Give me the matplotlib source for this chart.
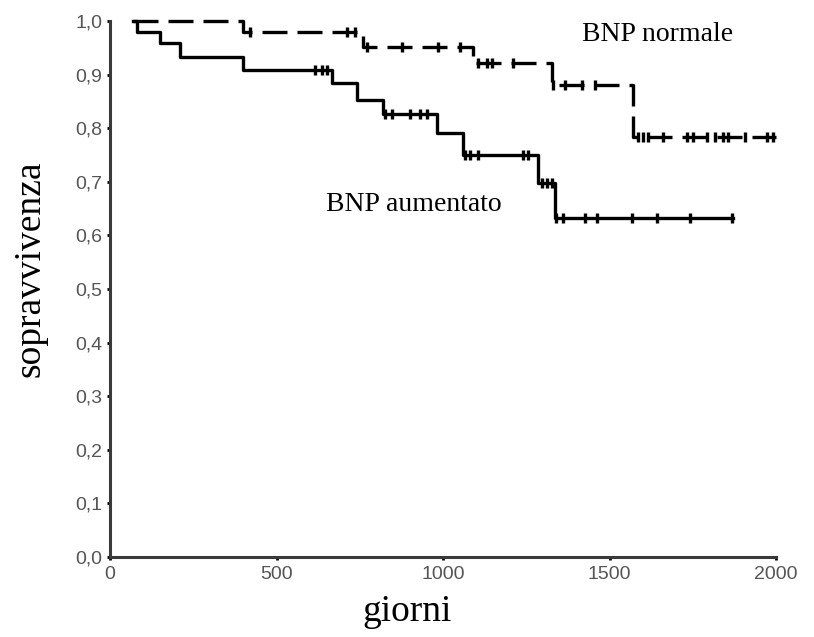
import matplotlib
matplotlib.use("Agg")
import matplotlib.pyplot as plt
import numpy as np

# ---- data ----
normal_step_days = [70, 400, 760, 1090, 1327, 1572]
normal_surv = [1.0, 0.979, 0.951, 0.922, 0.881, 0.784]
normal_end = 2000
normal_censor_days = [420, 712, 736, 771, 877, 985, 1051, 1105, 1132, 1147, 1210,
                      1330, 1366, 1417, 1456, 1586, 1601, 1616, 1661, 1733, 1751,
                      1793, 1817, 1841, 1856, 1907, 1973, 1991]

high_step_days = [70, 80, 150, 210, 400, 667, 742, 820, 982, 1060, 1285, 1336]
high_surv = [1.0, 0.979, 0.959, 0.933, 0.909, 0.884, 0.853, 0.826, 0.791, 0.75, 0.698, 0.632]
high_end = 1871
high_censor_days = [616, 637, 652, 826, 846, 901, 931, 951, 1066, 1081, 1105, 1240,
                    1255, 1297, 1312, 1327, 1339, 1360, 1426, 1462, 1568, 1643, 1742, 1868]

x_ticks = [0, 500, 1000, 1500, 2000]
y_ticks = [0.0, 0.1, 0.2, 0.3, 0.4, 0.5, 0.6, 0.7, 0.8, 0.9, 1.0]
y_tick_labels = ["0,0", "0,1", "0,2", "0,3", "0,4", "0,5", "0,6", "0,7", "0,8", "0,9", "1,0"]


def level_at(t, steps, surv):
    idx = np.searchsorted(steps, t, side="right") - 1
    return surv[max(idx, 0)]


fig = plt.figure(figsize=(8.14, 6.37), dpi=100)
ax = fig.add_axes([110 / 814, 1 - 557 / 637, (776 - 110) / 814, (557 - 21) / 637])

lw = 2.4
# BNP normale (dashed)
xs = list(normal_step_days) + [normal_end]
ys = list(normal_surv) + [normal_surv[-1]]
ax.step(xs, ys, where="post", color="black", lw=lw, dashes=(7.5, 3), clip_on=False)
cy = [level_at(t, normal_step_days, normal_surv) for t in normal_censor_days]
ax.plot(normal_censor_days, cy, ls="none", marker="|", ms=7, mew=2.4, color="black", clip_on=False)

# BNP aumentato (solid)
xs = list(high_step_days) + [high_end]
ys = list(high_surv) + [high_surv[-1]]
ax.step(xs, ys, where="post", color="black", lw=lw, clip_on=False)
cy = [level_at(t, high_step_days, high_surv) for t in high_censor_days]
ax.plot(high_censor_days, cy, ls="none", marker="|", ms=7, mew=2.4, color="black", clip_on=False)

ax.set_xlim(0, 2000)
ax.set_ylim(0, 1.0)
ax.set_xticks(x_ticks)
ax.set_xticklabels([str(v) for v in x_ticks])
ax.set_yticks(y_ticks)
ax.set_yticklabels(y_tick_labels)

for s in ["top", "right"]:
    ax.spines[s].set_visible(False)
for s in ["left", "bottom"]:
    ax.spines[s].set_color("#3a3a3a")
    ax.spines[s].set_linewidth(2.2)

ax.tick_params(direction="out", length=2.5, width=2, color="black",
               labelsize=14, labelcolor="#555555")
ax.tick_params(axis="x", pad=4)
ax.tick_params(axis="y", pad=3)
for lab in ax.get_xticklabels() + ax.get_yticklabels():
    lab.set_family("Liberation Sans")

serif = "Liberation Serif"
ax.text(1417, 0.974, "BNP normale", fontsize=20, family=serif, va="center", ha="left")
ax.text(649, 0.657, "BNP aumentato", fontsize=20, family=serif, va="center", ha="left")

fig.text(407 / 814, 1 - 612 / 637, "giorni", fontsize=27, family=serif, ha="center", va="center")
fig.text(30 / 814, 1 - 269 / 637, "sopravvivenza", fontsize=27, family=serif,
         ha="center", va="center", rotation=90)

fig.savefig("out.png", dpi=100)
